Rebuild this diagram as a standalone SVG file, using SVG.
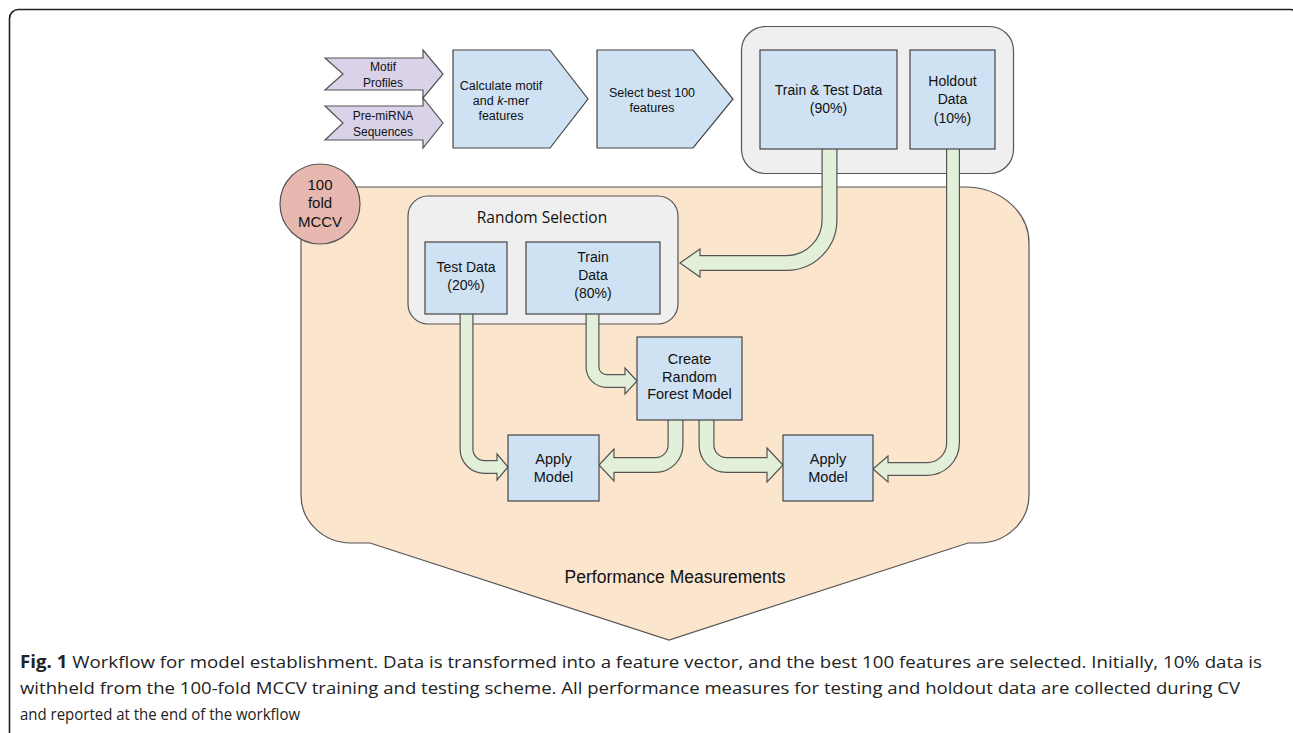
<svg xmlns="http://www.w3.org/2000/svg" width="1293" height="733" viewBox="0 0 1293 733">
<style>
.t{font-family:"Liberation Sans",Arial,sans-serif;fill:#111;text-anchor:middle}
.box{fill:#cfe2f3;stroke:#444;stroke-width:1.2}
.pur{fill:#d9d2e9;stroke:#555;stroke-width:1.2}
.cont{fill:#efefef;stroke:#555;stroke-width:1.2}
.ao{fill:none;stroke:#555}
.ai{fill:none;stroke:#e2efd9}
.ah{fill:#e2efd9;stroke:#555;stroke-width:1.2;stroke-linejoin:miter}
.cap{font-family:"Open Sans","Liberation Sans",sans-serif;font-size:17px;fill:#222}
</style>
<rect x="0" y="0" width="1293" height="733" fill="#fff"/>
<rect id="frame" x="9.5" y="9.5" width="1290" height="780" rx="9" fill="none" stroke="#222" stroke-width="1.6"/>

<g id="mccv-region">
<path d="M301 187 H965 A64 56 0 0 1 1029 243 V495 A50 48 0 0 1 979 543 H968 L669 640 L370 543 H351 A50 48 0 0 1 301 495 Z" fill="#fce5cd" stroke="#555" stroke-width="1.2"/>
<text class="t" x="675" y="583" font-size="17.5">Performance Measurements</text>
</g>

<g id="mccv-circle">
<circle cx="320" cy="204" r="40" fill="#e6b8af" stroke="#555" stroke-width="1.2"/>
<text class="t" x="320" y="190" font-size="15">100</text>
<text class="t" x="320" y="208" font-size="15">fold</text>
<text class="t" x="320" y="227" font-size="15">MCCV</text>
</g>

<g id="split-container">
<rect class="cont" x="741.5" y="26.5" width="272" height="147" rx="24"/>
</g>

<g id="random-selection">
<rect class="cont" x="408" y="196" width="270" height="128" rx="20"/>
<text x="542" y="223" font-family="'Open Sans','Liberation Sans',sans-serif" font-size="15.5" fill="#111" text-anchor="middle">Random Selection</text>
</g>

<g id="motif-profiles">
<polygon class="pur" points="325,58 423,58 423,50 443,74 423,98 423,90 325,90 343,74"/>
<text class="t" x="383" y="71" font-size="12">Motif</text>
<text class="t" x="383" y="87" font-size="12">Profiles</text>
</g>

<g id="pre-mirna">
<polygon class="pur" points="325,106 423,106 423,98 443,123 423,148 423,140 325,140 343,123"/>
<text class="t" x="383" y="120" font-size="12">Pre-miRNA</text>
<text class="t" x="383" y="136" font-size="12">Sequences</text>
</g>

<g id="calculate-features">
<polygon class="box" points="453,50 550,50 588,99 550,148 453,148"/>
<text class="t" x="501" y="89.5" font-size="12.5">Calculate motif</text>
<text class="t" x="501" y="104.5" font-size="12.5">and <tspan font-style="italic">k</tspan>-mer</text>
<text class="t" x="501" y="119.5" font-size="12.5">features</text>
</g>

<g id="select-features">
<polygon class="box" points="597,50 693,50 733,99 693,148 597,148"/>
<text class="t" x="652" y="96.5" font-size="12.5">Select best 100</text>
<text class="t" x="652" y="111.5" font-size="12.5">features</text>
</g>

<g id="connectors">
<path class="ao" stroke-width="16" d="M829.5 149 V220 A43 43 0 0 1 786.5 263 H700"/>
<polygon class="ah" points="700,249 680,263 700,277"/>
<path class="ai" stroke-width="13.6" d="M829.5 148 V220 A43 43 0 0 1 786.5 263 H698"/>

<path class="ao" stroke-width="14" d="M953 149 V443 A26 26 0 0 1 927 469 H888"/>
<polygon class="ah" points="888,456 873,469 888,482"/>
<path class="ai" stroke-width="11.6" d="M953 148 V443 A26 26 0 0 1 927 469 H886"/>

<path class="ao" stroke-width="14" d="M466.5 314 V449 A18 18 0 0 0 484.5 467 H497"/>
<polygon class="ah" points="497,454 508,467 497,480"/>
<path class="ai" stroke-width="11.6" d="M466.5 313 V449 A18 18 0 0 0 484.5 467 H499"/>

<path class="ao" stroke-width="14" d="M592.5 314 V367 A14 14 0 0 0 606.5 381 H625"/>
<polygon class="ah" points="625,368 637,381 625,394"/>
<path class="ai" stroke-width="11.6" d="M592.5 313 V367 A14 14 0 0 0 606.5 381 H627"/>

<path class="ao" stroke-width="16" d="M675.5 420 V445 A20 20 0 0 1 655.5 465 H614"/>
<polygon class="ah" points="614,449 599,465 614,481"/>
<path class="ai" stroke-width="13.6" d="M675.5 419 V445 A20 20 0 0 1 655.5 465 H612"/>

<path class="ao" stroke-width="16" d="M706.5 420 V445 A20 20 0 0 0 726.5 465 H767"/>
<polygon class="ah" points="767,448 783,465 767,482"/>
<path class="ai" stroke-width="13.6" d="M706.5 419 V445 A20 20 0 0 0 726.5 465 H769"/>
</g>

<g id="train-test-data">
<rect class="box" x="760" y="50" width="137" height="99"/>
<text class="t" x="828.5" y="95" font-size="14">Train &amp; Test Data</text>
<text class="t" x="828.5" y="113" font-size="14">(90%)</text>
</g>

<g id="holdout-data">
<rect class="box" x="910" y="50" width="85" height="99"/>
<text class="t" x="952.5" y="86" font-size="14">Holdout</text>
<text class="t" x="952.5" y="104" font-size="14">Data</text>
<text class="t" x="952.5" y="123" font-size="14">(10%)</text>
</g>

<g id="test-data">
<rect class="box" x="425" y="242" width="82" height="72"/>
<text class="t" x="466" y="272" font-size="14">Test Data</text>
<text class="t" x="466" y="290" font-size="14">(20%)</text>
</g>

<g id="train-data">
<rect class="box" x="526" y="242" width="134" height="72"/>
<text class="t" x="593" y="262" font-size="14">Train</text>
<text class="t" x="593" y="280" font-size="14">Data</text>
<text class="t" x="593" y="298" font-size="14">(80%)</text>
</g>

<g id="create-model">
<rect class="box" x="637" y="337" width="105" height="83"/>
<text class="t" x="689.5" y="364" font-size="14.5">Create</text>
<text class="t" x="689.5" y="381.5" font-size="14.5">Random</text>
<text class="t" x="689.5" y="399" font-size="14.5">Forest Model</text>
</g>

<g id="apply-model-test">
<rect class="box" x="508" y="435" width="91" height="66"/>
<text class="t" x="553.5" y="464" font-size="14.5">Apply</text>
<text class="t" x="553.5" y="482" font-size="14.5">Model</text>
</g>

<g id="apply-model-holdout">
<rect class="box" x="783" y="435" width="90" height="66"/>
<text class="t" x="828" y="464" font-size="14.5">Apply</text>
<text class="t" x="828" y="482" font-size="14.5">Model</text>
</g>

<g id="caption">
<text class="cap" x="20" y="668" textLength="1242" lengthAdjust="spacingAndGlyphs"><tspan font-weight="bold">Fig. 1</tspan> Workflow for model establishment. Data is transformed into a feature vector, and the best 100 features are selected. Initially, 10% data is</text>
<text class="cap" x="20" y="694" textLength="1220" lengthAdjust="spacingAndGlyphs">withheld from the 100-fold MCCV training and testing scheme. All performance measures for testing and holdout data are collected during CV</text>
<text class="cap" x="20" y="720" textLength="280" lengthAdjust="spacingAndGlyphs">and reported at the end of the workflow</text>
</g>
</svg>
